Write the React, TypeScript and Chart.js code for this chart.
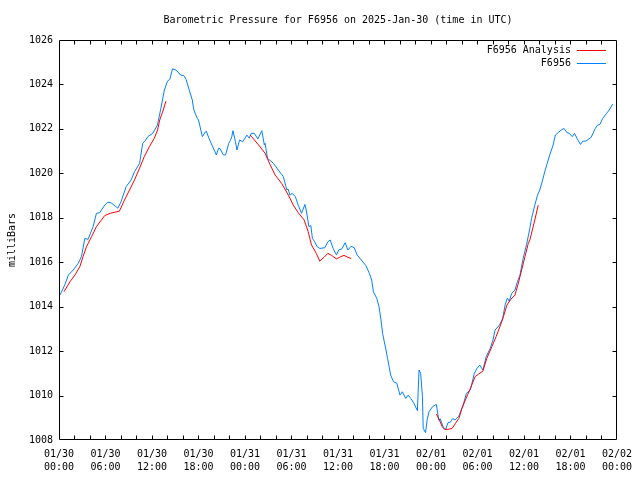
import { useEffect, useRef } from 'react';
import { Chart, registerables } from 'chart.js';

Chart.register(...registerables);

const FONT = '"DejaVu Sans Mono", "Liberation Mono", monospace';
const TITLE = 'Barometric Pressure for F6956 on 2025-Jan-30 (time in UTC)';
const Y_TITLE = 'milliBars';

const dateLabels = ['01/30', '01/30', '01/30', '01/30', '01/31', '01/31', '01/31', '01/31', '02/01', '02/01', '02/01', '02/01', '02/02'];
const timeLabels = ['00:00', '06:00', '12:00', '18:00', '00:00', '06:00', '12:00', '18:00', '00:00', '06:00', '12:00', '18:00', '00:00'];
const yTickValues = [1008, 1010, 1012, 1014, 1016, 1018, 1020, 1022, 1024, 1026];

// hours since 2025-01-30 00:00 UTC
const stationHours = [
  0.13, 0.77, 1.2, 1.84, 2.48, 2.9, 3.33, 3.75, 4.4, 4.83, 5.25, 5.9, 6.3, 6.7, 7.6, 8.0, 8.67, 9.3, 9.74, 10.4,
  10.8, 11.2, 11.45, 12.1, 12.7, 13.15, 13.6, 14.0, 14.3, 14.65, 15.1, 15.7, 16.1, 16.4, 16.8, 17.2, 17.4, 17.85, 18.0, 18.5,
  18.9, 19.0, 19.35, 20.3, 20.6, 20.8, 21.2, 21.5, 21.9, 22.1, 22.3, 22.45, 22.67, 22.97, 23.3, 23.7, 24.25, 24.55, 24.8, 25.2,
  25.66, 26.17, 26.5, 26.6, 26.9, 27.67, 28.3, 28.95, 29.4, 29.55, 29.8, 30.1, 30.5, 30.87, 31.3, 31.73, 31.9, 32.25, 32.5, 32.7,
  33.0, 33.3, 33.65, 34.3, 34.7, 35.0, 35.36, 35.8, 36.1, 36.5, 36.93, 37.28, 37.7, 38.1, 38.47, 39.0, 39.6, 40.05, 40.35, 40.57,
  41.0, 41.3, 41.55, 41.76, 41.98, 42.2, 42.4, 42.6, 42.8, 43.17, 43.6, 44.0, 44.3, 44.75, 45.05, 45.4, 45.8, 46.25, 46.46, 46.67,
  46.9, 47.0, 47.3, 47.5, 47.75, 48.2, 48.7, 49.0, 49.2, 49.6, 49.9, 50.2, 50.5, 50.8, 51.1, 51.6, 52.15, 52.57, 53.08, 53.6,
  53.93, 54.3, 54.7, 55.13, 55.64, 56.0, 56.27, 56.84, 57.26, 57.56, 57.86, 58.1, 58.42, 58.84, 59.15, 59.48, 59.9, 60.34, 60.76, 60.98,
  61.4, 61.75, 62.04, 62.35, 62.68, 63.0, 63.33, 63.76, 64.05, 64.4, 64.82, 65.17, 65.55, 65.85, 66.23, 66.52, 66.96, 67.3, 67.6, 68.0,
  68.67, 69.2, 69.5, 69.8, 70.16, 70.67, 71.0, 71.45,
];
const stationPressure = [
  1014.52, 1015.0, 1015.42, 1015.65, 1015.95, 1016.25, 1017.07, 1017.03, 1017.6, 1018.2, 1018.23, 1018.57, 1018.7, 1018.68, 1018.43, 1018.72, 1019.4, 1019.7, 1020.07, 1020.45,
  1021.35, 1021.5, 1021.65, 1021.8, 1022.17, 1022.93, 1023.75, 1024.15, 1024.23, 1024.7, 1024.65, 1024.42, 1024.4, 1024.23, 1023.75, 1023.3, 1022.85, 1022.47, 1022.4, 1021.65,
  1021.87, 1021.9, 1021.58, 1020.83, 1021.13, 1021.1, 1020.83, 1020.83, 1021.35, 1021.47, 1021.65, 1021.92, 1021.58, 1021.05, 1021.5, 1021.42, 1021.72, 1021.58, 1021.8, 1021.8,
  1021.55, 1021.92, 1021.28, 1021.35, 1020.68, 1020.45, 1020.15, 1019.85, 1019.25, 1019.3, 1019.02, 1019.1, 1018.95, 1018.57, 1018.2, 1018.6, 1018.35, 1017.6, 1017.65, 1017.07,
  1016.92, 1016.7, 1016.62, 1016.65, 1016.92, 1017.0, 1016.63, 1016.33, 1016.55, 1016.6, 1016.88, 1016.55, 1016.72, 1016.65, 1016.33, 1016.1, 1015.85, 1015.5, 1015.2, 1014.67,
  1014.38, 1014.0, 1013.4, 1012.8, 1012.42, 1012.05, 1011.67, 1011.3, 1010.92, 1010.62, 1010.55, 1010.02, 1010.17, 1009.87, 1010.02, 1009.87, 1009.65, 1009.32, 1011.15, 1011.0,
  1009.95, 1008.52, 1008.33, 1008.9, 1009.27, 1009.5, 1009.6, 1008.9, 1008.95, 1008.57, 1008.48, 1008.78, 1008.8, 1008.97, 1008.9, 1009.08, 1009.57, 1010.1, 1010.25, 1011.0,
  1011.22, 1011.37, 1011.15, 1011.75, 1012.12, 1012.5, 1012.95, 1013.17, 1013.47, 1014.07, 1014.38, 1014.25, 1014.6, 1014.75, 1015.12, 1015.42, 1016.18, 1016.8, 1017.52, 1017.97,
  1018.57, 1019.02, 1019.25, 1019.62, 1020.07, 1020.45, 1020.83, 1021.27, 1021.72, 1021.83, 1021.95, 1022.02, 1021.83, 1021.8, 1021.65, 1021.8, 1021.5, 1021.3, 1021.45, 1021.45,
  1021.62, 1022.02, 1022.17, 1022.2, 1022.47, 1022.7, 1022.85, 1023.12,
];

// null values break the analysis line into its three runs
const analysisHours = [
  0.64, 1.41, 2.05, 2.69, 3.1, 3.55, 4.2, 4.83, 5.47, 5.9, 6.6, 7.2, 7.8, 8.45, 9.1, 9.74, 10.4, 11.0, 11.66, 12.3, 12.72, 13.0, 13.45, 13.8,
  19.0,
  24.68, 25.75, 26.6, 27.25, 27.9, 28.73, 29.6, 30.23, 30.87, 31.64, 32.15, 32.58, 33.2, 33.65, 34.2, 34.7, 35.2, 35.8, 36.2, 36.77, 37.28, 37.7,
  43.0,
  48.7, 49.0, 49.45, 49.75, 50.2, 50.73, 51.16, 51.6, 52.0, 52.44, 53.08, 53.7, 54.15, 54.7, 55.2, 55.86, 56.4, 56.9, 57.35, 57.8, 58.3, 58.84, 59.27, 59.7, 60.13, 60.56, 60.76, 61.4, 61.84,
];
const analysisPressure = [
  1014.67, 1015.12, 1015.42, 1015.8, 1016.25, 1016.7, 1017.15, 1017.6, 1017.9, 1018.1, 1018.2, 1018.25, 1018.3, 1018.8, 1019.25, 1019.7, 1020.23, 1020.75, 1021.2, 1021.58, 1021.95, 1022.4, 1022.85, 1023.25,
  null,
  1021.72, 1021.28, 1020.9, 1020.38, 1019.92, 1019.55, 1019.02, 1018.57, 1018.23, 1017.9, 1017.38, 1016.78, 1016.4, 1016.05, 1016.22, 1016.4, 1016.3, 1016.15, 1016.22, 1016.31, 1016.22, 1016.17,
  null,
  1009.17, 1008.97, 1008.6, 1008.48, 1008.48, 1008.52, 1008.75, 1008.97, 1009.42, 1009.8, 1010.32, 1010.85, 1010.97, 1011.1, 1011.67, 1012.2, 1012.65, 1013.1, 1013.55, 1014.07, 1014.33, 1014.52, 1015.05, 1015.65, 1016.25, 1016.85, 1017.0, 1017.9, 1018.57,
];

const RED = '#ff0000';
const BLUE = '#0080ff';

const framePlugin = {
  id: 'gnuFrame',
  afterDraw(chart: any) {
    const { ctx, chartArea: a, scales } = chart;
    const L = Math.round(a.left) + 0.5;
    const R = Math.round(a.right) - 0.5;
    const T = Math.round(a.top) + 0.5;
    const B = Math.round(a.bottom) - 0.5;
    const clamp = (v: number, lo: number, hi: number) => Math.max(lo, Math.min(hi, v));
    ctx.save();
    ctx.strokeStyle = '#000';
    ctx.lineWidth = 1;
    ctx.beginPath();
    ctx.rect(L, T, R - L, B - T);
    const tl = 4;
    for (const t of scales.x.ticks) {
      const px = clamp(Math.round(scales.x.getPixelForValue(t.value)) + 0.5, L, R);
      if (px === L || px === R) continue;
      ctx.moveTo(px, B); ctx.lineTo(px, B - tl);
      ctx.moveTo(px, T); ctx.lineTo(px, T + tl);
    }
    for (const t of scales.y.ticks) {
      const py = clamp(Math.round(scales.y.getPixelForValue(t.value)) + 0.5, T, B);
      if (py === T || py === B) continue;
      ctx.moveTo(L, py); ctx.lineTo(L + tl, py);
      ctx.moveTo(R, py); ctx.lineTo(R - tl, py);
    }
    ctx.stroke();

    // title
    ctx.fillStyle = '#000';
    ctx.font = `10px ${FONT}`;
    ctx.textAlign = 'center';
    ctx.textBaseline = 'middle';
    ctx.fillText(TITLE, (a.left + a.right) / 2, 20);

    // legend (text right-aligned, sample line after it)
    chart.data.datasets.forEach((ds: any, i: number) => {
      const y = Math.round(a.top + 10 + i * 13) + 0.5;
      ctx.textAlign = 'right';
      ctx.fillStyle = '#000';
      ctx.fillText(ds.label, a.right - 46, y);
      ctx.strokeStyle = ds.borderColor;
      ctx.beginPath();
      ctx.moveTo(a.right - 40, y);
      ctx.lineTo(a.right - 11, y);
      ctx.stroke();
    });
    ctx.restore();
  },
};

export default function App() {
  const ref = useRef<HTMLCanvasElement | null>(null);

  useEffect(() => {
    if (!ref.current) return;
    document.body.style.margin = '0';
    const chart = new Chart(ref.current, {
      type: 'line',
      data: {
        datasets: [
          {
            label: 'F6956 Analysis',
            data: analysisHours.map((h, i) => ({ x: h, y: analysisPressure[i] })),
            borderColor: RED,
            backgroundColor: RED,
            borderWidth: 1,
            pointRadius: 0,
            tension: 0,
            spanGaps: false,
          },
          {
            label: 'F6956',
            data: stationHours.map((h, i) => ({ x: h, y: stationPressure[i] })),
            borderColor: BLUE,
            backgroundColor: BLUE,
            borderWidth: 1,
            pointRadius: 0,
            tension: 0,
          },
        ],
      },
      options: {
        animation: false,
        responsive: false,
        devicePixelRatio: 1,
        layout: { padding: { top: 40, right: 19, left: 0, bottom: 0 } },
        plugins: {
          legend: { display: false },
          title: { display: false },
          tooltip: { enabled: false },
        },
        scales: {
          x: {
            type: 'linear',
            min: 0,
            max: 72,
            grid: { display: false, drawTicks: false },
            border: { display: false },
            afterFit: (s: any) => { s.height = 40; },
            ticks: {
              stepSize: 2,
              autoSkip: false,
              maxRotation: 0,
              padding: 8,
              color: '#000',
              font: { family: FONT, size: 10, lineHeight: 1.3 },
              callback: (v: any) => {
                const n = Number(v);
                return n % 6 === 0 ? [dateLabels[n / 6], timeLabels[n / 6]] : '';
              },
            },
          },
          y: {
            type: 'linear',
            min: yTickValues[0],
            max: yTickValues[yTickValues.length - 1],
            grid: { display: false, drawTicks: false },
            border: { display: false },
            afterFit: (s: any) => { s.width = 59; },
            afterBuildTicks: (s: any) => { s.ticks = yTickValues.map((v) => ({ value: v })); },
            title: {
              display: true,
              text: Y_TITLE,
              color: '#000',
              font: { family: FONT, size: 10 },
              padding: { top: 6, bottom: 0 },
            },
            ticks: {
              padding: 6,
              color: '#000',
              font: { family: FONT, size: 10 },
              callback: (v: any) => String(v),
            },
          },
        },
      },
      plugins: [framePlugin],
    });
    return () => chart.destroy();
  }, []);

  return (
    <div style={{ position: 'absolute', left: 0, top: 0, width: 640, height: 480 }}>
      <canvas ref={ref} width={640} height={480} style={{ display: 'block' }} />
    </div>
  );
}
